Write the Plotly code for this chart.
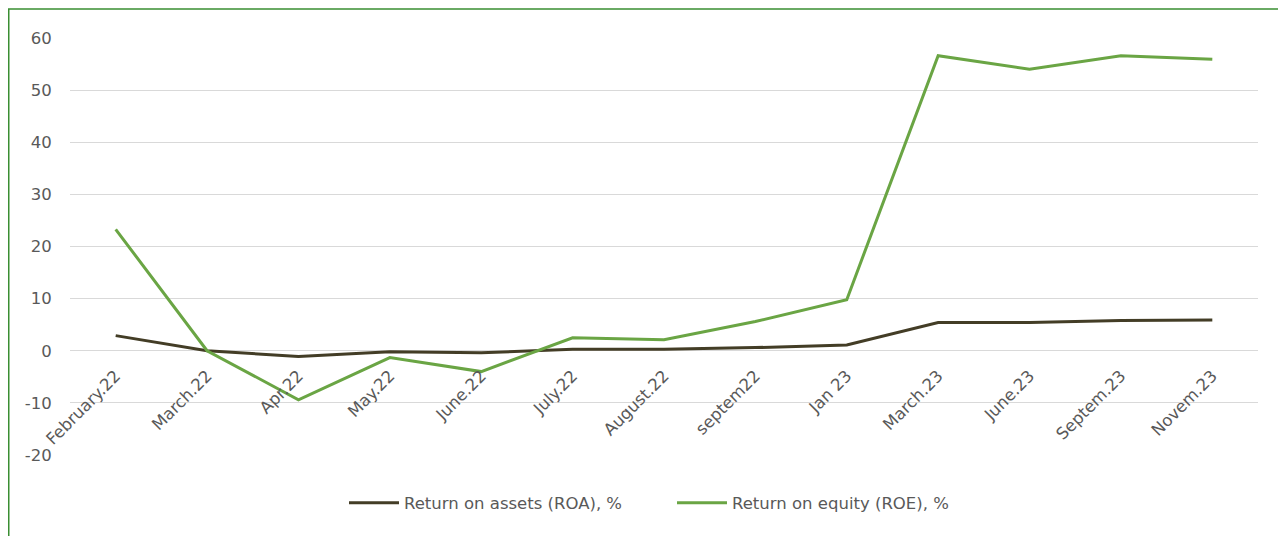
import plotly.graph_objects as go

categories = ["February.22", "March.22", "Apr.22", "May.22", "June.22", "July.22",
              "August.22", "septem22", "Jan 23", "March.23", "June.23", "Septem.23", "Novem.23"]
roa = [2.9, 0.0, -1.1, -0.2, -0.4, 0.3, 0.3, 0.6, 1.1, 5.4, 5.4, 5.8, 5.9]
roe = [23.3, 0.0, -9.4, -1.3, -4.0, 2.5, 2.1, 5.6, 9.8, 56.6, 54.0, 56.6, 55.9]
y_ticks = [-20, -10, 0, 10, 20, 30, 40, 50, 60]
y_labels = ["-20", "-10", "0", "10", "20", "30", "40", "50", "60"]

FONT = "DejaVu Sans"
TXT = "#595959"
FS = 16.5
Y_MIN, Y_MAX = -20, 60

# page body has an 8px margin; coordinates below are figure coordinates
OFF = 8
L, R, T, B = 70 - OFF, 1258 - OFF, 38 - OFF, 455 - OFF
W, H = 1286 - OFF, 536 - OFF
pw, ph = R - L, B - T

fig = go.Figure()
fig.add_trace(go.Scatter(x=categories, y=roa, mode="lines", name="Return on assets (ROA), %",
                         line=dict(color="#433D26", width=3), legend="legend"))
fig.add_trace(go.Scatter(x=categories, y=roe, mode="lines", name="Return on equity (ROE), %",
                         line=dict(color="#6AA544", width=3), legend="legend2"))

leg_y = (B - (503 - OFF)) / ph
fig.update_layout(
    width=W, height=H,
    margin=dict(l=L, r=W - R, t=T, b=H - B, pad=0),
    paper_bgcolor="white", plot_bgcolor="white",
    font=dict(family=FONT, size=FS, color=TXT),
    showlegend=True,
    legend=dict(x=(350 - OFF - 6 - L) / pw, xanchor="left", y=leg_y, yanchor="middle",
                font=dict(family=FONT, size=FS, color=TXT), itemwidth=50),
    legend2=dict(x=(678 - OFF - 6 - L) / pw, xanchor="left", y=leg_y, yanchor="middle",
                 font=dict(family=FONT, size=FS, color=TXT), itemwidth=50),
    xaxis=dict(type="category", range=[-0.5, len(categories) - 0.5], tickangle=-45,
               showgrid=False, zeroline=False, showline=False, ticks="outside", ticklen=8,
               tickcolor="rgba(0,0,0,0)", automargin=False,
               tickfont=dict(family=FONT, size=FS, color=TXT),
               anchor="free", position=(0 - Y_MIN) / (Y_MAX - Y_MIN)),
    yaxis=dict(range=[Y_MIN, Y_MAX], tickvals=y_ticks, ticktext=y_labels, showgrid=True,
               gridcolor="#D9D9D9", gridwidth=1, automargin=False,
               zeroline=False, showline=False, ticks="outside", ticklen=14,
               tickcolor="rgba(0,0,0,0)",
               tickfont=dict(family=FONT, size=FS, color=TXT)),
    shapes=[dict(type="rect", xref="paper", yref="paper",
                 x0=(0.75 - L) / pw, x1=(1300 - L) / pw,
                 y0=(B - 545) / ph, y1=1 + (T - 1) / ph,
                 line=dict(color="#3A8E32", width=1.5), fillcolor="rgba(0,0,0,0)", layer="below")],
)
fig.write_html("out.html")
